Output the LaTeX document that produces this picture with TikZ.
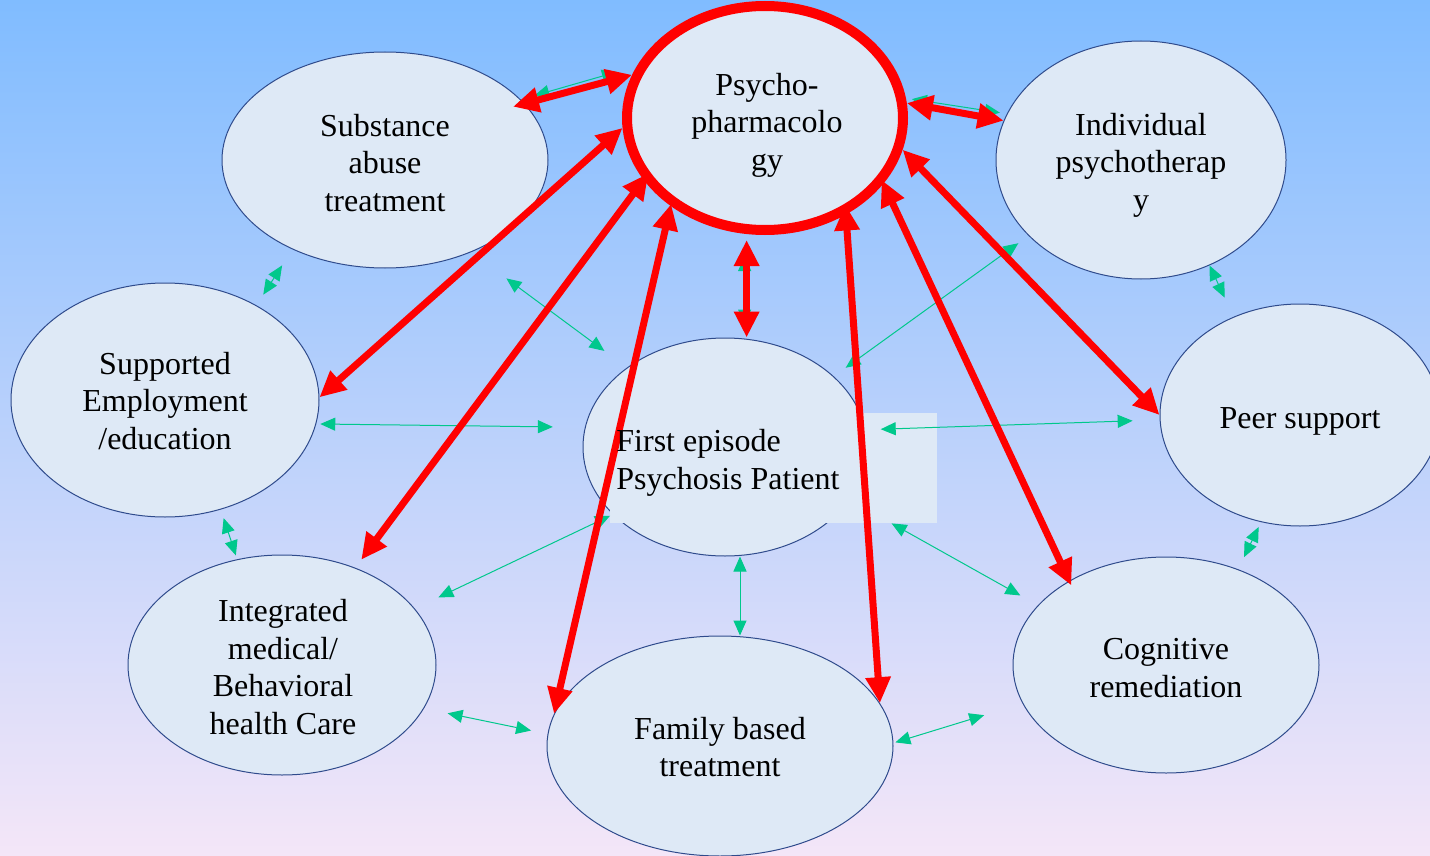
\documentclass[tikz,border=0pt]{standalone}
\usepackage{fontspec}
\setmainfont{Liberation Serif}
\usetikzlibrary{arrows.meta,calc,shapes.geometric}
\definecolor{bgtop}{RGB}{128,188,255}
\definecolor{bgmid}{RGB}{182,208,240}
\definecolor{bgbot}{RGB}{244,230,248}
\definecolor{ellfill}{RGB}{222,233,246}
\definecolor{elledge}{RGB}{47,75,140}
\definecolor{grn}{RGB}{0,200,140}
\begin{document}
\begin{tikzpicture}[x=0.5pt,y=-0.5pt,
  ell/.style={ellipse, draw=elledge, line width=0.5pt, fill=ellfill, inner sep=0pt},
  redarr/.style={draw=red, line width=3.5pt,
    {Triangle[length=13pt,width=12pt]}-{Triangle[length=13pt,width=12pt]}},
  grnarr/.style={draw=grn, line width=0.5pt,
    {Triangle[length=7.5pt,width=6.5pt]}-{Triangle[length=7.5pt,width=6.5pt]}},
  lbl/.style={inner sep=0pt, align=center, font=\fontsize{16}{18.75}\selectfont},
  txt/.style={inner sep=0pt, align=left, font=\fontsize{16}{18.75}\selectfont}]
\useasboundingbox (0,0) rectangle (1430,856);
\clip (0,0) rectangle (1430,856);
\shade[top color=bgtop, middle color=bgmid, bottom color=bgbot] (0,0) rectangle (1430,856);

% nodes
\node[ell, minimum width=163pt, minimum height=108pt] (sub) at (385,160) {};
\node[ell, draw=red, line width=5pt, minimum width=138pt, minimum height=112pt] (psy) at (765,118) {};
\node[ell, minimum width=145pt, minimum height=119pt] (ind) at (1141,160) {};
\node[ell, minimum width=154pt, minimum height=117pt] (sup) at (165,400) {};
\node[ell, minimum width=142pt, minimum height=109pt] (fep) at (725,447) {};
\node[ell, minimum width=140pt, minimum height=111pt] (peer) at (1300,415) {};
\node[ell, minimum width=154pt, minimum height=110pt] (int) at (282,665) {};
\node[ell, minimum width=173pt, minimum height=110pt] (fam) at (720,746) {};
\node[ell, minimum width=153pt, minimum height=108pt] (cog) at (1166,665) {};
\node[fill=ellfill, inner sep=0pt, minimum width=163.5pt, minimum height=55pt, anchor=north west] (fepbox) at (610,413) {};

% green connectors
\draw[grnarr, shorten <=10.3pt, shorten >=7pt] (psy.158) -- (sub.24.4);
\draw[grnarr, shorten <=3pt, shorten >=3.5pt] (psy.8.1) -- (ind.161.6);
\draw[grnarr, shorten <=9.5pt, shorten >=6.3pt] (sub.224.5) -- (sup.46.4);
\draw[grnarr, shorten >=10.5pt] (ind.303.3) -- (peer.124.1);
\draw[grnarr, shorten <=4.5pt, shorten >=2pt] (sup.297.5) -- (int.113.8);
\draw[grnarr, shorten <=2.7pt, shorten >=6.7pt] (peer.250.3) -- (cog.53);
\draw[grnarr, shorten <=11pt, shorten >=6.5pt] ($(psy.261)+(-2,0)$) -- ($(psy.261 |- fep.north)+(-2,0)$);
\draw[grnarr, shorten <=22pt, shorten >=14pt] (sub.313.8) -- (fep.141);
\draw[grnarr, shorten <=2pt, shorten >=16pt] (sup.351.6) -- (fep.172.4);
\draw[grnarr, shorten <=7.5pt, shorten >=13.5pt] (fep.7.7) -- (peer.182);
\draw[grnarr, shorten <=6.3pt, shorten >=7.3pt] (ind.214.8) -- (fep.33.4);
\draw[grnarr, shorten <=1.5pt, shorten >=13pt] (fep.211.8) -- (int.23.7);
\draw[grnarr] ($(fam.north |- fep.south)+(20,0)$) -- ($(fam.north)+(20,0)$);
\draw[grnarr, shorten <=24pt, shorten >=10pt] (fep.337.6) -- (cog.155);
\draw[grnarr, shorten <=12pt, shorten >=8.4pt] (int.343.5) -- (fam.176.7);
\draw[grnarr, shorten <=1pt, shorten >=20pt] (fam.1.6) -- (cog.195.8);

% red connectors
\draw[redarr, shorten >=-6pt] (psy.162) -- (sub.22.6);
\draw[redarr] (psy.6) -- (ind.164);
\draw[redarr] (psy.184) -- (sup.1);
\draw[redarr, shorten <=-4pt, shorten >=5pt] (psy.207.6) -- (int.53.4);
\draw[redarr, shorten <=-1pt] (psy.223) -- (fam.169.5);
\draw[redarr, shorten <=3pt] (psy.261) -- (psy.261 |- fep.north);
\draw[redarr, shorten <=-5pt] (psy.310) -- (fam.15.4);
\draw[redarr, shorten <=-2pt, shorten >=-2.5pt] (psy.331.9) -- (cog.139.3);
\draw[redarr] (psy.347.1) -- (peer.180);

% texts
\node[lbl] (subtext) at ($(sub)+(0,3)$) {Substance\\abuse\\treatment};
\node[lbl] (psytext) at ($(psy)+(2,7)$) {Psycho-\\pharmacolo\\gy};
\node[lbl] (indtext) at ($(ind)+(0,5)$) {Individual\\psychotherap\\y};
\node[lbl] (suptext) at ($(sup)+(0,1)$) {Supported\\Employment\\/education};
\node[lbl] (peertext) at ($(peer)+(0,6)$) {Peer support};
\node[lbl] (inttext) at ($(int)+(1,2)$) {Integrated\\medical/\\Behavioral\\health Care};
\node[lbl] (famtext) at ($(fam)+(0,1)$) {Family based\\treatment};
\node[lbl] (cogtext) at ($(cog)+(0,3)$) {Cognitive\\remediation};
\node[txt, anchor=north west] (feptext) at (616,429) {First episode\\Psychosis Patient};
\end{tikzpicture}
\end{document}
